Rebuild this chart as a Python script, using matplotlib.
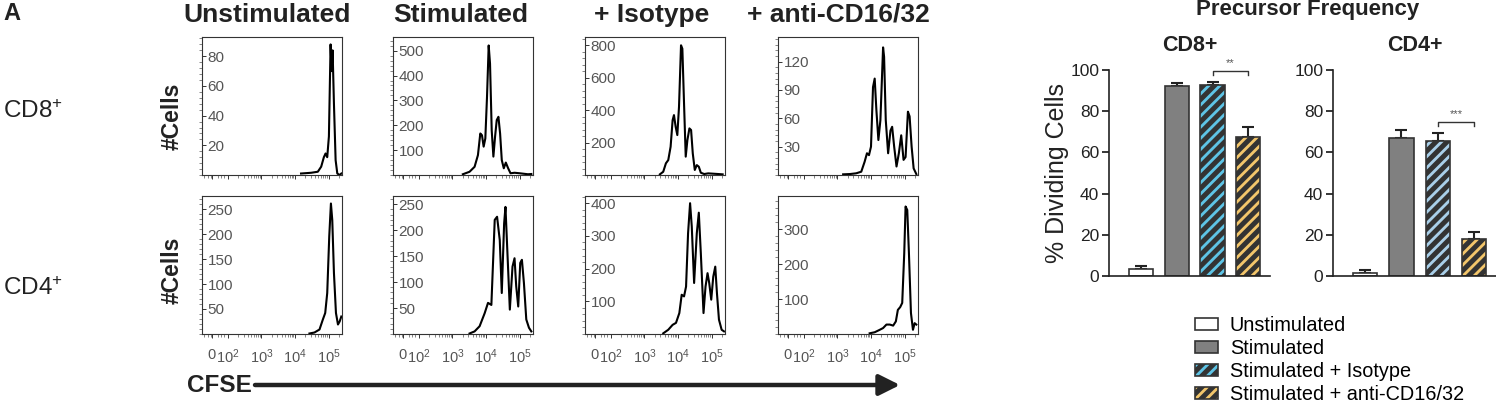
import numpy as np
import matplotlib
matplotlib.use("Agg")
from matplotlib import pyplot as plt
from matplotlib.ticker import FixedLocator, AutoMinorLocator
from matplotlib.patches import Patch

plt.rcParams['font.family'] = ['Liberation Sans', 'DejaVu Sans']
plt.rcParams['mathtext.fontset'] = 'custom'
plt.rcParams['mathtext.rm'] = 'Liberation Sans'
plt.rcParams['mathtext.it'] = 'Liberation Sans'
plt.rcParams['hatch.linewidth'] = 3.6

# ---- histogram data (x = log10 CFSE position, y = #cells) ----
conditions = ['Unstimulated', 'Stimulated', '+ Isotype', '+ anti-CD16/32']
cell_types = ['CD8', 'CD4']

cd8_unstim_x = [4.18, 4.48, 4.68, 4.78, 4.86, 4.91, 4.96, 5.01, 5.06, 5.09, 5.12, 5.16, 5.21, 5.26, 5.33, 5.38]
cd8_unstim_y = [1, 1.5, 2.2, 5.6, 12, 14.5, 12, 26, 88, 70, 84, 48, 10, 1, 0, 1]

cd8_stim_x = [3.31, 3.51, 3.66, 3.76, 3.83, 3.88, 3.93, 3.98, 4.03, 4.08, 4.12, 4.17, 4.22, 4.27,
              4.32, 4.37, 4.42, 4.47, 4.53, 4.59, 4.66, 4.73, 4.85, 5.0, 5.25, 5.35]
cd8_stim_y = [3, 13, 33, 80, 167, 160, 114, 147, 314, 521, 448, 180, 74, 154,
              221, 234, 167, 60, 27, 50, 27, 7, 9, 7, 3, 4]

cd8_iso_x = [3.46, 3.56, 3.64, 3.71, 3.78, 3.84, 3.88, 3.93, 3.98, 4.03, 4.09, 4.13, 4.18, 4.23,
             4.28, 4.34, 4.39, 4.44, 4.50, 4.56, 4.62, 4.68, 4.78, 4.90, 5.05, 5.20, 5.33]
cd8_iso_y = [4, 20, 72, 92, 174, 338, 369, 297, 246, 420, 799, 778, 440, 113,
             215, 287, 277, 133, 31, 61, 51, 14, 6, 10, 8, 6, 4]

cd8_anti_x = [3.17, 3.37, 3.56, 3.71, 3.81, 3.88, 3.94, 4.0, 4.06, 4.11, 4.16, 4.22, 4.28, 4.36, 4.39,
              4.44, 4.51, 4.58, 4.63, 4.69, 4.76, 4.83, 4.90, 4.97, 5.03, 5.10, 5.15, 5.21, 5.27, 5.35]
cd8_anti_y = [0.7, 1, 1.8, 3.5, 14, 23, 21, 30, 93, 102, 69, 37, 58, 135, 125,
              58, 23, 47, 51, 30, 9, 23, 42, 16, 19, 67, 62, 30, 7, 1]

cd4_unstim_x = [4.43, 4.58, 4.73, 4.83, 4.90, 4.96, 5.02, 5.07, 5.11, 5.16, 5.22, 5.28, 5.33, 5.38]
cd4_unstim_y = [1, 3, 9, 29, 42, 82, 195, 261, 228, 122, 42, 19, 25, 35]

cd4_stim_x = [3.51, 3.66, 3.81, 3.96, 4.06, 4.16, 4.26, 4.33, 4.41, 4.47, 4.54, 4.58, 4.63, 4.71,
              4.79, 4.85, 4.90, 4.96, 5.02, 5.07, 5.13, 5.20, 5.28, 5.35]
cd4_stim_y = [1, 5, 15, 40, 60, 56, 220, 226, 181, 79, 213, 245, 169, 47,
              130, 146, 92, 53, 137, 143, 98, 28, 12, 5]

cd4_iso_x = [3.56, 3.71, 3.84, 3.94, 4.04, 4.11, 4.18, 4.24, 4.30, 4.36, 4.41, 4.48, 4.56, 4.62,
             4.68, 4.76, 4.82, 4.88, 4.93, 4.99, 5.05, 5.11, 5.16, 5.22, 5.30, 5.37]
cd4_iso_y = [2, 13, 28, 34, 64, 120, 115, 145, 308, 400, 329, 156, 308, 371,
             247, 64, 145, 186, 156, 105, 175, 206, 125, 44, 13, 8]

cd4_anti_x = [3.96, 4.11, 4.26, 4.36, 4.46, 4.56, 4.66, 4.74, 4.80, 4.87, 4.93, 4.99, 5.03, 5.08,
              5.13, 5.19, 5.25, 5.30, 5.35]
cd4_anti_y = [2, 5, 12, 17, 27, 27, 24, 36, 69, 77, 89, 231, 365, 355,
              231, 60, 12, 31, 27]

hist_x = [[cd8_unstim_x, cd8_stim_x, cd8_iso_x, cd8_anti_x],
          [cd4_unstim_x, cd4_stim_x, cd4_iso_x, cd4_anti_x]]
hist_y = [[cd8_unstim_y, cd8_stim_y, cd8_iso_y, cd8_anti_y],
          [cd4_unstim_y, cd4_stim_y, cd4_iso_y, cd4_anti_y]]
hist_ymax = [[93, 555, 850, 146], [276, 266, 422, 395]]
hist_yticks = [[[20, 40, 60, 80], [100, 200, 300, 400, 500], [200, 400, 600, 800], [30, 60, 90, 120]],
               [[50, 100, 150, 200, 250], [50, 100, 150, 200, 250], [100, 200, 300, 400], [100, 200, 300]]]
cfse_ticks = [1.52, 2, 3, 4, 5]
cfse_labels = ['0', '$10^{2}$', '$10^{3}$', '$10^{4}$', '$10^{5}$']

# ---- precursor frequency bars ----
groups = ['Unstimulated', 'Stimulated', 'Stimulated + Isotype', 'Stimulated + anti-CD16/32']
cd8_freq = [3.5, 92.2, 92.5, 67.3]
cd8_sem = [1.3, 1.3, 1.5, 5.2]
cd4_freq = [1.5, 67.0, 65.6, 18.2]
cd4_sem = [1.4, 3.8, 3.6, 3.4]

W, H = 1496, 405
fig = plt.figure(figsize=(W / 100, H / 100), dpi=100)


def add_ax(left, top, w, h):
    return fig.add_axes([left / W, 1 - (top + h) / H, w / W, h / H])


col_left = [202, 393, 585, 778]
row_top = [37, 196]
minor_x = [1.3, 1.4, 1.5, 1.7, 1.8, 1.9] + [d + np.log10(k) for d in (2, 3, 4) for k in range(2, 10)] + \
          [5 + np.log10(k) for k in (2, 3)]

for r in range(2):
    for c in range(4):
        ax = add_ax(col_left[c], row_top[r], 140, 138)
        ax.plot(hist_x[r][c], hist_y[r][c], color='black', lw=1.5)
        ax.set_xlim(1.23, 5.40)
        ax.set_ylim(0, hist_ymax[r][c])
        for s in ax.spines.values():
            s.set_linewidth(0.8)
            s.set_color('#333333')
        ax.yaxis.set_major_locator(FixedLocator(hist_yticks[r][c]))
        ax.yaxis.set_minor_locator(AutoMinorLocator(5))
        ax.tick_params(axis='y', which='major', direction='in', length=3, width=0.7,
                       pad=-4, labelsize=11, labelcolor='#555555', color='#333333')
        ax.tick_params(axis='y', which='minor', direction='out', length=2, width=0.5, color='#555555')
        for lab in ax.get_yticklabels():
            lab.set_horizontalalignment('left')
        ax.xaxis.set_major_locator(FixedLocator(cfse_ticks))
        ax.xaxis.set_minor_locator(FixedLocator(minor_x))
        ax.tick_params(axis='x', which='major', direction='out', length=3, width=0.7, color='#333333')
        ax.tick_params(axis='x', which='minor', direction='out', length=2, width=0.5, color='#555555')
        if r == 1:
            ax.set_xticklabels(cfse_labels)
            ax.tick_params(axis='x', which='major', labelsize=10.5, labelcolor='#555555', pad=7)
        else:
            ax.tick_params(axis='x', labelbottom=False)

# column titles and row labels
title_x = [267, 461, 652, 838]
for t, x in zip(conditions, title_x):
    fig.text(x / W, 1 - 15 / H, t, ha='center', va='center', fontsize=19, fontweight='bold', color='#222222')
fig.text(3 / W, 1 - 13 / H, 'A', ha='left', va='center', fontsize=17, fontweight='bold', color='#222222')
fig.text(3 / W, 1 - 112 / H, 'CD8$^{+}$', ha='left', va='center', fontsize=17.5, color='#222222')
fig.text(3 / W, 1 - 289 / H, 'CD4$^{+}$', ha='left', va='center', fontsize=17.5, color='#222222')
for y in (116, 270):
    fig.text(172 / W, 1 - y / H, '#Cells', ha='center', va='center', rotation=90,
             fontsize=16.5, fontweight='bold', color='#222222')

# CFSE arrow
fig.text(187 / W, 1 - 385 / H, 'CFSE', ha='left', va='center', fontsize=17.5, fontweight='bold', color='#222222')
fig.add_artist(plt.Annotation('', xy=(900 / W, 1 - 385 / H), xytext=(255 / W, 1 - 385 / H),
                              xycoords='figure fraction', textcoords='figure fraction',
                              arrowprops=dict(arrowstyle='-|>,head_length=0.9,head_width=0.45',
                                              lw=3.2, color='#222222', mutation_scale=14,
                                              shrinkA=0, shrinkB=0)))

# ---- bar charts ----
cd8_faces = ['white', '#808080', '#5ec4e6', '#f3c66b']
cd4_faces = ['white', '#808080', '#a9cfe9', '#f3c66b']
hatches = ['', '', '///', '///']
pos = np.arange(4)


def bar_panel(left, width, vals, sems, faces, title, bracket_y, stars):
    ax = add_ax(left, 70, width, 206)
    bars = ax.bar(pos, vals, width=0.67, color=faces, edgecolor='#333333', linewidth=1.2, zorder=2)
    for b, h in zip(bars, hatches):
        b.set_hatch(h)
    ax.errorbar(pos, vals, yerr=[np.zeros(4), sems], fmt='none', ecolor='#222222',
                elinewidth=1.5, capsize=4.5, capthick=1.5, zorder=1)
    ax.set_xlim(-0.88, 3.6)
    ax.set_ylim(0, 100)
    ax.set_yticks([0, 20, 40, 60, 80, 100])
    ax.set_xticks([])
    for s in ('top', 'right'):
        ax.spines[s].set_visible(False)
    for s in ('left', 'bottom'):
        ax.spines[s].set_linewidth(1.2)
        ax.spines[s].set_color('#222222')
    ax.tick_params(axis='y', direction='out', length=5, width=1.1, labelsize=12.5,
                   labelcolor='#222222', pad=2)
    ax.plot([2, 2, 3, 3], [bracket_y - 2, bracket_y, bracket_y, bracket_y - 2],
            color='#333333', lw=1, clip_on=False)
    ax.text(2.5, bracket_y + 1.2, stars, ha='center', va='bottom', fontsize=8, color='#555555')
    ax.set_title(title, fontsize=15.5, fontweight='bold', color='#222222', pad=14)
    return ax


ax8 = bar_panel(1109, 161, cd8_freq, cd8_sem, cd8_faces, 'CD8+', 99.5, '**')
ax4 = bar_panel(1333, 163, cd4_freq, cd4_sem, cd4_faces, 'CD4+', 74.8, '***')
ax8.set_ylabel('% Dividing Cells', fontsize=18, color='#222222', labelpad=1)

fig.text(1308 / W, 1 - 9 / H, 'Precursor Frequency', ha='center', va='center',
         fontsize=16, fontweight='bold', color='#222222')

handles = [Patch(facecolor=f, edgecolor='#333333', hatch=h, linewidth=1.2)
           for f, h in zip(cd8_faces, hatches)]
fig.legend(handles, groups, loc='center left', bbox_to_anchor=(1195 / W, 1 - 360 / H),
           frameon=False, fontsize=14.3, handlelength=1.15, handleheight=0.6,
           labelspacing=0.2, handletextpad=0.6, borderaxespad=0, borderpad=0)

fig.savefig('out.png', dpi=100)
